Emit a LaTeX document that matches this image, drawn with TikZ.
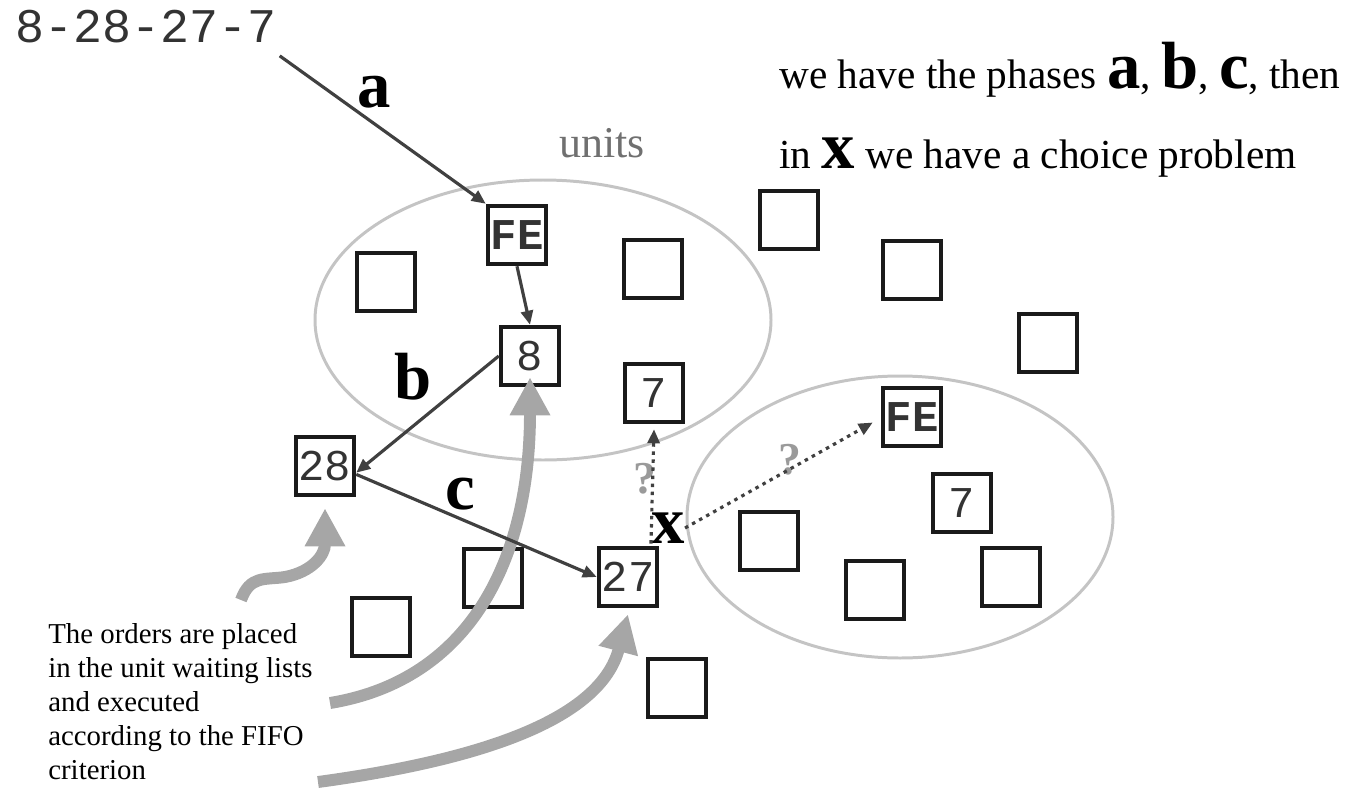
\documentclass[tikz,border=0pt]{standalone}
\usepackage{fontspec}
\setmainfont{Liberation Serif}
\newfontfamily\digitfont{Liberation Mono}
\usetikzlibrary{arrows.meta}
\definecolor{boxblack}{HTML}{1A1A1A}
\definecolor{linegray}{HTML}{404040}
\definecolor{queuegray}{HTML}{A6A6A6}
\definecolor{ringgray}{HTML}{C4C4C4}
\definecolor{askgray}{HTML}{9A9A9A}
\definecolor{unitsgray}{HTML}{707070}
\newcommand{\phaseletter}[1]{{\bfseries\fontsize{38}{38}\selectfont #1}}

\begin{document}
\begin{tikzpicture}[x=0.02cm,y=-0.02cm]
		\tikzstyle{unit}=[rectangle, draw=boxblack, text=black!80, line width=2.3pt, minimum size=1.17cm, inner sep=0pt, font=\digitfont\fontsize{25}{25}\selectfont]
		\tikzstyle{fe}=[unit, font=\digitfont\bfseries\fontsize{25}{25}\selectfont]
		\tikzstyle{phase}=[inner sep=0pt, font=\bfseries\fontsize{38}{38}\selectfont]
		\tikzstyle{ring}=[draw=ringgray, line width=1.7pt]
		\tikzstyle{move}=[draw=linegray, line width=1.8pt, -{Triangle[length=0.28cm,width=0.24cm]}]
		\tikzstyle{guess}=[move, dash pattern=on 2pt off 2.6pt]
		\tikzstyle{queue}=[draw=queuegray, line width=6.8pt, -{Triangle[length=0.76cm,width=0.76cm]}]
		\useasboundingbox (0,0) rectangle (1346,788);
		% the two groups of units
		\draw[ring] (543,320) ellipse [x radius=228, y radius=140];
		\draw[ring] (900,517) ellipse [x radius=213, y radius=141];
		% units with an order
		\node[fe] (FEa) at (517,235) {FE};
		\node[unit] (Eight) at (530,356) {8};
		\node[unit] (Seven) at (654,393) {7};
		\node[unit] (TwentyEight) at (325,466) {28};
		\node[unit] (TwentySeven) at (628,577) {27};
		\node[fe] (FEb) at (912,417) {FE};
		\node[unit] (SevenB) at (962,503) {7};
		% empty units
		\foreach \p [count=\i] in {(386,282),(653,269),(493,578),(381,627),(677,688),(789,220),(912,270),(1048,343),(769,541),(875,590),(1011,577)}
			\node[unit] (Unit\i) at \p {};
		% texts
		\node[anchor=base west, inner sep=4pt, text=black!80, font=\digitfont\fontsize{27.5}{27.5}\selectfont] (Seq) at (8,42) {8-28-27-7};
		\node[text=unitsgray, font=\fontsize{25}{25}\selectfont] (Units) at (602,143) {units};
		\node[anchor=base west, inner sep=0pt, font=\fontsize{23.5}{23.5}\selectfont] (Phases) at (779,88) {we have the phases \phaseletter{a}, \phaseletter{b}, \phaseletter{c}, then};
		\node[anchor=base west, inner sep=0pt, font=\fontsize{23.5}{23.5}\selectfont] (Choice) at (779,168) {in \phaseletter{x} we have a choice problem};
		\node[anchor=north west, align=left, inner sep=0pt, font=\fontsize{16.4}{19.4}\selectfont] (Orders) at (48,623) {The orders are placed\\in the unit waiting lists\\and executed\\according to the FIFO\\criterion};
		\node[phase] (LabA) at (374,92) {a};
		\node[phase] (LabB) at (413,377) {b};
		\node[phase] (LabC) at (460,494) {c};
		\node[phase] (X) at (668,528) {x};
		\node[text=askgray, inner sep=0pt, font=\bfseries\fontsize{26}{26}\selectfont] (Q1) at (645,479) {?};
		\node[text=askgray, inner sep=0pt, font=\bfseries\fontsize{26}{26}\selectfont] (Q2) at (790,460) {?};
		% waiting lists
		\coordinate (Start1) at (241,600);
		\coordinate (Start2) at (330,703);
		\coordinate (Start3) at (318,782);
		\draw[queue] (Start1) .. controls (250,575) and (265,580) .. (285,577) .. controls (312,572) and (325,555) .. ([yshift=-0.22cm]TwentyEight.south);
		\draw[queue] (Start2) .. controls (470,680) and (530,560) .. ([yshift=0.2cm]Eight.south);
		\draw[queue] (Start3) .. controls (480,760) and (600,720) .. ([yshift=-0.12cm]TwentySeven.south);
		% phases a, b, c
		\draw[move] ([shift={(-4,6)}]Seq.south east) -- (FEa.north west);
		\draw[move] (FEa.south) -- (Eight.north);
		\draw[move] (Eight.west) -- (TwentyEight.-12);
		\draw[move] (TwentyEight.-15) -- (TwentySeven.west);
		% the choice in x
		\draw[guess] (X.south west) -- ([yshift=-0.1cm]Seven.south);
		\draw[guess] (X.east) -- ([xshift=-0.16cm]FEb.190);
\end{tikzpicture}
\end{document}
